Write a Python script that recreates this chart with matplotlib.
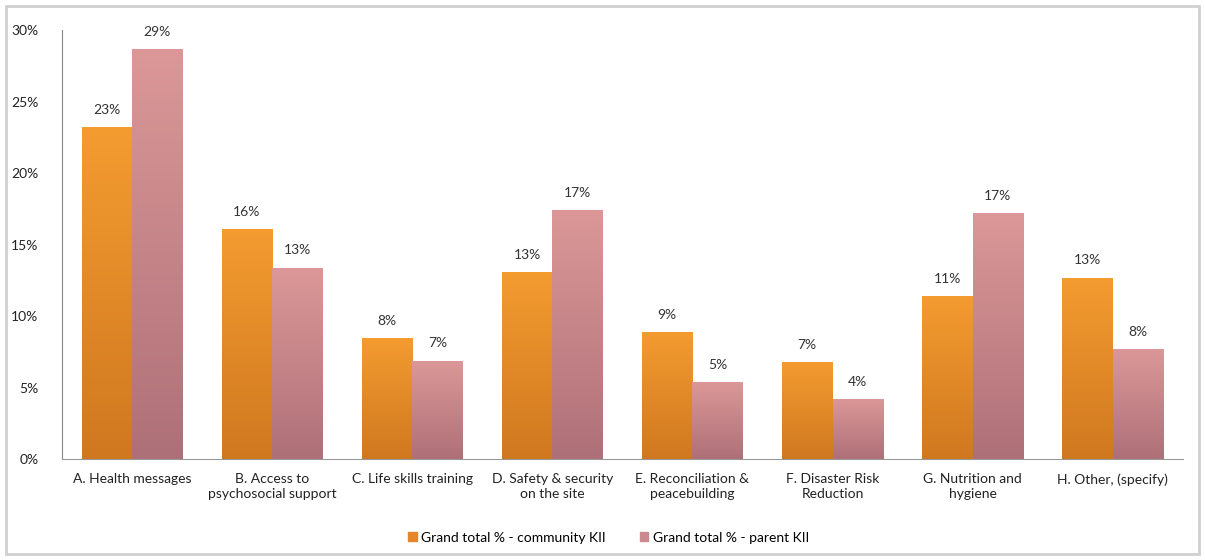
import numpy as np
import matplotlib.pyplot as plt
from matplotlib.colors import LinearSegmentedColormap
from matplotlib.patches import Patch, Rectangle

plt.rcParams['font.family'] = ['Lato', 'DejaVu Sans']

categories = ['A. Health messages', 'B. Access to\npsychosocial support', 'C. Life skills training',
              'D. Safety & security\non the site', 'E. Reconciliation &\npeacebuilding',
              'F. Disaster Risk\nReduction', 'G. Nutrition and\nhygiene', 'H. Other, (specify)']
community = [23.2, 16.1, 8.5, 13.1, 8.9, 6.8, 11.4, 12.7]
parent = [28.7, 13.4, 6.9, 17.4, 5.4, 4.2, 17.2, 7.7]
series_names = ['Grand total % - community KII', 'Grand total % - parent KII']
yticks = [0, 5, 10, 15, 20, 25, 30]

# gradient colours (top, bottom)
orange = ('#F49C30', '#CF7820')
pink = ('#DC9898', '#AE7078')

fig = plt.figure(figsize=(12.05, 5.6), dpi=100)
ax = fig.add_axes([0.0515, 0.18, 0.93, 0.766])

x = np.arange(len(categories))
w = 0.36

def grad_bars(bars, cols):
    cmap = LinearSegmentedColormap.from_list('g', [cols[1], cols[0]])
    grad = np.linspace(0, 1, 256).reshape(-1, 1)
    for b in bars:
        x0, y0 = b.get_x(), b.get_y()
        x1, y1 = x0 + b.get_width(), y0 + b.get_height()
        im = ax.imshow(grad, cmap=cmap, aspect='auto', origin='lower',
                       extent=[x0, x1, y0, y1], zorder=2)
        im.set_clip_path(b)

b1 = ax.bar(x - w / 2, community, w, facecolor='none', edgecolor='none', zorder=2)
b2 = ax.bar(x + w / 2, parent, w, facecolor='none', edgecolor='none', zorder=2)
grad_bars(b1, orange)
grad_bars(b2, pink)

for bars, vals in ((b1, community), (b2, parent)):
    for b, v in zip(bars, vals):
        ax.annotate(f'{round(v):.0f}%', (b.get_x() + b.get_width() / 2, v),
                    xytext=(0, 8), textcoords='offset points', ha='center', va='bottom',
                    fontsize=10, color='#333333')

ax.set_xlim(-0.5, len(categories) - 0.5)
ax.set_ylim(0, 30)
ax.set_yticks(yticks)
ax.set_yticklabels([f'{t}%' for t in yticks])
ax.set_xticks(x)
ax.set_xticklabels(categories, fontsize=10, color='#222222', linespacing=1.3)
ax.tick_params(axis='both', length=0, labelsize=10, colors='#222222')
ax.tick_params(axis='y', pad=17)
ax.tick_params(axis='x', pad=10)
for s in ['top', 'right']:
    ax.spines[s].set_visible(False)
ax.spines['left'].set_color('#888888')
ax.spines['bottom'].set_color('#999999')

handles = [Patch(color='#E6862A'), Patch(color='#CC8A8E')]
fig.legend(handles, series_names, loc='center', bbox_to_anchor=(0.505, 0.04), ncol=2,
           frameon=False, fontsize=10, handlelength=0.6, handleheight=0.6,
           handletextpad=0.3, columnspacing=2.5)

fig.patches.append(Rectangle((0.005, 0.01), 0.99, 0.98, transform=fig.transFigure,
                             fill=False, edgecolor='#D0D0D0', linewidth=2))

fig.savefig('out.png', dpi=100, facecolor='white')
